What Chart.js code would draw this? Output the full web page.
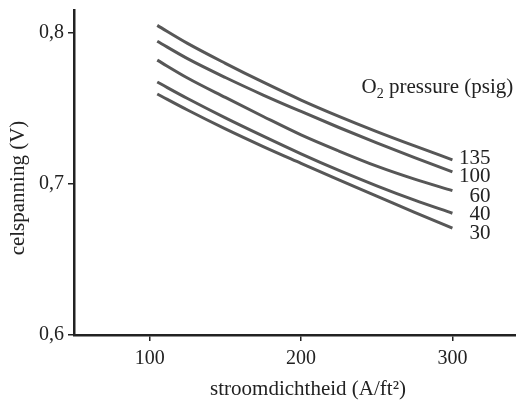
<!DOCTYPE html>
<html>
<head>
<meta charset="utf-8">
<script src="https://cdn.jsdelivr.net/npm/chart.js@4"></script>
<style>
  html, body { margin: 0; padding: 0; background: #fff; }
  #wrap { width: 516px; height: 400px; }
</style>
</head>
<body>
<div id="wrap"><canvas id="cellChart"></canvas></div>
<script>
// current density (A/ft2) where the curves were read
const density = [105, 125, 150, 175, 200, 225, 250, 275, 300];

// cell voltage (V) per O2 pressure (psig)
const v135 = [0.805, 0.7931, 0.7799, 0.7674, 0.7556, 0.7448, 0.7347, 0.7252, 0.716];
const v100 = [0.7945, 0.783, 0.7705, 0.7589, 0.748, 0.7374, 0.7272, 0.7174, 0.708];
const v60 = [0.782, 0.7702, 0.7573, 0.7447, 0.7325, 0.7218, 0.7118, 0.7032, 0.6956];
const v40 = [0.7675, 0.7566, 0.7438, 0.7317, 0.720, 0.709, 0.6988, 0.6893, 0.6806];
const v30 = [0.7596, 0.749, 0.7365, 0.7248, 0.7137, 0.7027, 0.692, 0.6812, 0.6707];

const pressures = ['135', '100', '60', '40', '30'];
const series = [v135, v100, v60, v40, v30];

const xTicks = [100, 200, 300];
const yTicks = [0.6, 0.7, 0.8];

// where the pressure labels sit on the y scale (they fan out a bit)
const labelAt = [0.7172, 0.7048, 0.692, 0.680, 0.6669];

const ink = '#222';
const lineGrey = '#575757';
const serif = '"Liberation Serif", "Times New Roman", serif';

// titles and curve labels drawn on the canvas
const annotations = {
    id: 'annotations',
    afterDraw(chart) {
        const ctx = chart.ctx;
        const x = chart.scales.x;
        const y = chart.scales.y;
        ctx.save();
        ctx.fillStyle = ink;
        ctx.font = '21px ' + serif;
        ctx.textBaseline = 'middle';

        // curve labels, right aligned
        ctx.textAlign = 'right';
        pressures.forEach((p, i) => {
            ctx.fillText(p, x.getPixelForValue(300) + 38, y.getPixelForValue(labelAt[i]));
        });

        // O2 pressure (psig) heading
        const hx = x.getPixelForValue(240);
        const hy = y.getPixelForValue(0.7636);
        ctx.textAlign = 'left';
        ctx.fillText('O', hx, hy);
        let w = ctx.measureText('O').width;
        ctx.font = '14px ' + serif;
        ctx.fillText('2', hx + w, hy + 6);
        w += ctx.measureText('2').width;
        ctx.font = '21px ' + serif;
        ctx.fillText(' pressure (psig)', hx + w, hy);

        // x axis title
        ctx.textAlign = 'center';
        ctx.fillText('stroomdichtheid (A/ft²)', 308, 389);

        // y axis title
        ctx.translate(18, 188);
        ctx.rotate(-Math.PI / 2);
        ctx.fillText('celspanning (V)', 0, 0);
        ctx.restore();
    }
};

new Chart(document.getElementById('cellChart'), {
    type: 'line',
    data: {
        labels: density,
        datasets: series.map((vals, i) => ({
            label: pressures[i],
            data: density.map((d, j) => ({ x: d, y: vals[j] })),
            borderColor: lineGrey,
            borderWidth: 3,
            pointRadius: 0,
            tension: 0.4,
            cubicInterpolationMode: 'monotone',
            fill: false
        }))
    },
    options: {
        responsive: true,
        maintainAspectRatio: false,
        animation: false,
        layout: { padding: { top: 10, right: 0, left: 0, bottom: 0 } },
        plugins: {
            legend: { display: false },
            tooltip: { enabled: false }
        },
        scales: {
            x: {
                type: 'linear',
                min: 50,
                max: 342,
                afterBuildTicks: (scale) => { scale.ticks = xTicks.map(v => ({ value: v })); },
                afterFit: (scale) => {
                    scale.height = 65;
                    scale.paddingLeft = 0;
                    scale.paddingRight = 0;
                },
                border: { color: ink, width: 2.5 },
                grid: { drawOnChartArea: false, drawTicks: true, tickLength: 6, color: ink, lineWidth: 1.5 },
                ticks: {
                    color: ink,
                    padding: 6,
                    maxRotation: 0,
                    font: { family: serif, size: 20 }
                }
            },
            y: {
                type: 'linear',
                min: 0.6,
                max: 0.8152,
                afterBuildTicks: (scale) => { scale.ticks = yTicks.map(v => ({ value: v })); },
                afterFit: (scale) => {
                    scale.width = 74;
                    scale.paddingTop = 0;
                    scale.paddingBottom = 0;
                },
                border: { color: ink, width: 2.5 },
                grid: { drawOnChartArea: false, drawTicks: true, tickLength: 6, color: ink, lineWidth: 1.5 },
                ticks: {
                    color: ink,
                    padding: 4,
                    font: { family: serif, size: 20 },
                    callback: (v) => v.toFixed(1).replace('.', ',')
                }
            }
        }
    },
    plugins: [annotations]
});
</script>
</body>
</html>
